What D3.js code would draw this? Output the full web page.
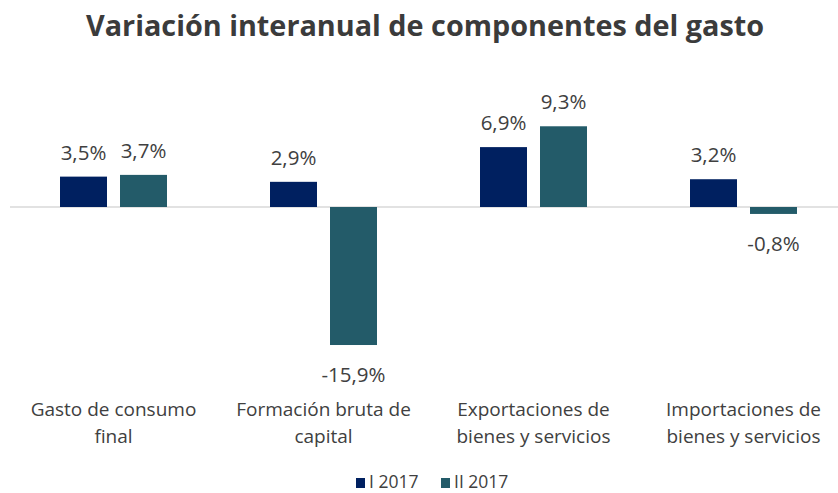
<!DOCTYPE html>
<html><head><meta charset="utf-8">
<script src="https://cdn.jsdelivr.net/npm/d3@7"></script>
<style>body{margin:0;background:#fff}svg{display:block}</style>
</head><body>
<svg id="c" width="838" height="493"></svg>
<script>
const title = "Variación interanual de componentes del gasto";
const categories = [["Gasto de consumo","final"],["Formación bruta de","capital"],["Exportaciones de","bienes y servicios"],["Importaciones de","bienes y servicios"]];
const seriesNames = ["I 2017","II 2017"];
const seriesI = [3.5, 2.9, 6.9, 3.2];
const seriesII = [3.7, -15.9, 9.3, -0.8];
const colors = ["#002060","#235B69"];

const svg = d3.select("#c");
const font = "Open Sans, Calibri, sans-serif";
const catIdx = d3.range(categories.length);
const x0 = d3.scaleBand().domain(catIdx).range([8.5, 848.5]);
const x1 = d3.scaleBand().domain([0,1]).range([x0.bandwidth()/2-53.5, x0.bandwidth()/2+53.5]).paddingInner(13/60);
const y = d3.scaleLinear().domain([-18, 12]).range([207+18*8.68, 207-12*8.68]);
const fmt = v => (v < 0 ? "-" : "") + d3.format(".1f")(Math.abs(v)).replace(".", ",") + "%";

svg.append("text").attr("x", 425).attr("y", 36).attr("text-anchor","middle")
  .attr("font-family", font).attr("font-weight", 700).attr("font-size", 28.8)
  .attr("fill","#3b3b3b").text(title);

svg.append("line").attr("x1",10).attr("x2",838).attr("y1",y(0)).attr("y2",y(0))
  .attr("stroke","#d9d9d9").attr("stroke-width",1.5);

const data = [];
catIdx.forEach(i => { data.push({c:i,s:0,v:seriesI[i]}); data.push({c:i,s:1,v:seriesII[i]}); });

svg.selectAll("rect.bar").data(data).enter().append("rect")
  .attr("x", d => x0(d.c) + x1(d.s)).attr("width", x1.bandwidth())
  .attr("y", d => y(Math.max(0,d.v))).attr("height", d => Math.abs(y(d.v)-y(0)))
  .attr("fill", d => colors[d.s]);

svg.selectAll("text.val").data(data).enter().append("text")
  .attr("x", d => x0(d.c) + x1(d.s) + x1.bandwidth()/2)
  .attr("y", d => d.v >= 0 ? y(d.v) - 17 : y(d.v) + 37)
  .attr("text-anchor","middle").attr("font-family", font).attr("font-size", 20.5)
  .attr("fill","#404040").text(d => fmt(d.v));

const cl = svg.selectAll("g.cat").data(catIdx).enter().append("text")
  .attr("text-anchor","middle").attr("font-family", font).attr("font-size", 19).attr("fill","#404040");
cl.each(function(i){
  const t = d3.select(this);
  categories[i].forEach((line,k) => t.append("tspan").attr("x", x0(i)+x0.bandwidth()/2).attr("y", 416 + k*27).text(line));
});

const lg = svg.append("g").attr("font-family", font).attr("font-size", 17.5).attr("fill","#404040");
[[356,0],[441,1]].forEach(([lx,s]) => {
  lg.append("rect").attr("x", lx).attr("y", 478).attr("width", 9).attr("height", 10).attr("fill", colors[s]);
  lg.append("text").attr("x", lx+13).attr("y", 488).text(seriesNames[s]);
});
</script>
</body></html>
